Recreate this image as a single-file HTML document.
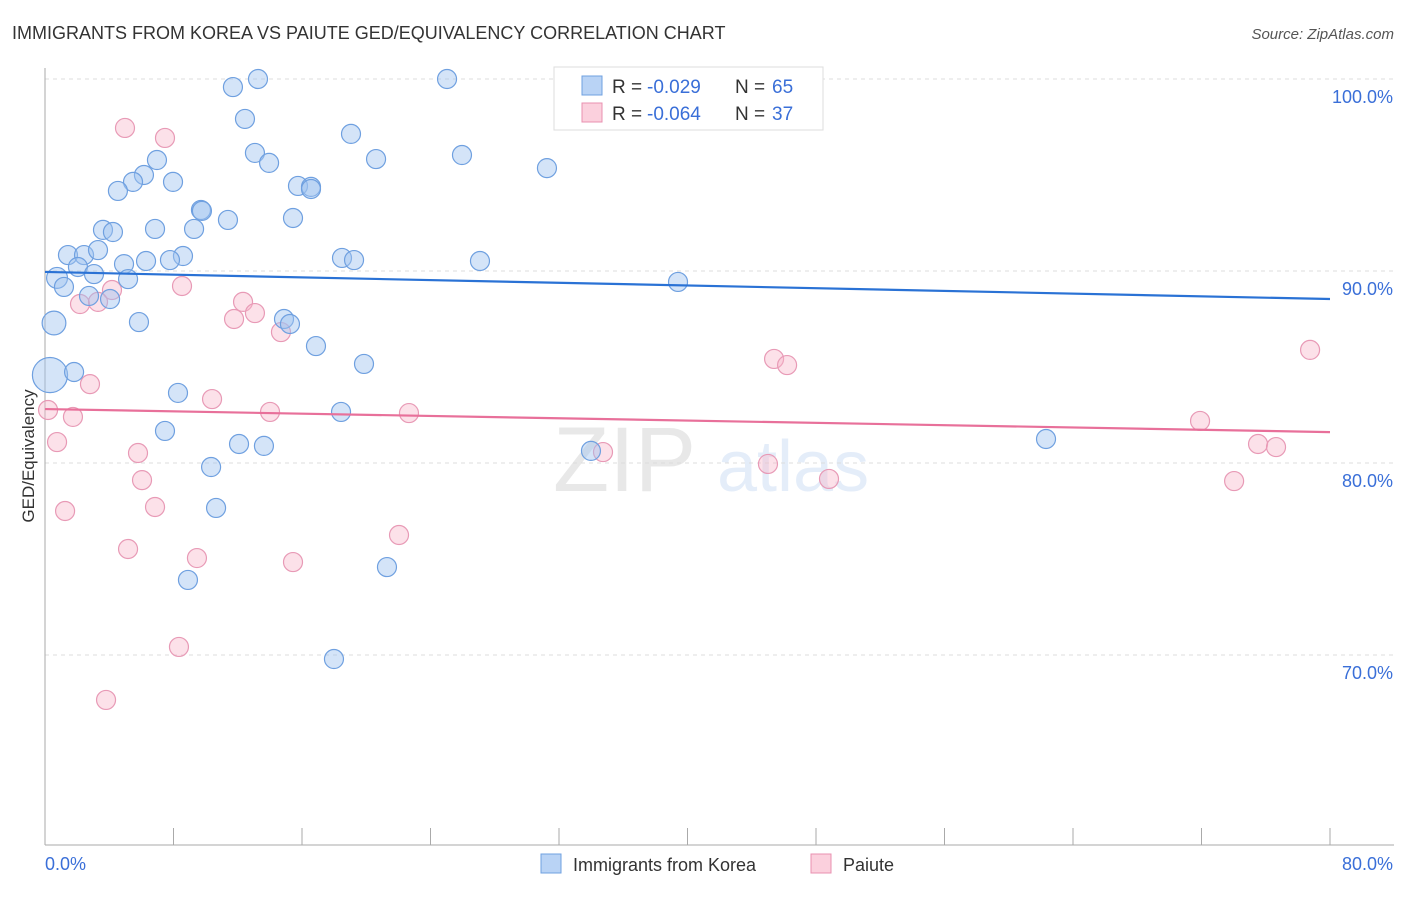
<!DOCTYPE html>
<html><head><meta charset="utf-8"><style>
body{margin:0;background:#fff;font-family:"Liberation Sans",sans-serif;}
svg text{font-family:"Liberation Sans",sans-serif;}
</style></head><body>
<svg id="chart" width="1406" height="892" xmlns="http://www.w3.org/2000/svg">
<text x="12" y="39" font-size="18" fill="#333">IMMIGRANTS FROM KOREA VS PAIUTE GED/EQUIVALENCY CORRELATION CHART</text>
<text x="1394" y="39" font-size="15" fill="#555" text-anchor="end" font-style="italic">Source: ZipAtlas.com</text>
<g opacity="0.13">
<text x="553" y="491" font-size="92" fill="#555" font-family="Liberation Serif">ZIP</text>
<text x="717" y="491" font-size="72" fill="#3a7ad8">atlas</text>
</g>
<g id="grid"></g>
<g id="axes"></g>
<g id="marks"></g>
<text transform="translate(34,456) rotate(-90)" font-size="17" fill="#333" text-anchor="middle">GED/Equivalency</text>
<g>
<rect x="554" y="67" width="269" height="63" fill="#fff" stroke="#ddd"/>
<rect x="582" y="76" width="20" height="19" fill="#b9d3f5" stroke="#6fa0e0"/>
<rect x="582" y="103" width="20" height="19" fill="#fbd0dd" stroke="#e890b0"/>
<text xml:space="preserve" x="612" y="93" font-size="19" fill="#333">R = <tspan x="647" fill="#3a6fd8">-0.029</tspan><tspan x="735">N = </tspan><tspan x="772" fill="#3a6fd8">65</tspan></text>
<text xml:space="preserve" x="612" y="120" font-size="19" fill="#333">R = <tspan x="647" fill="#3a6fd8">-0.064</tspan><tspan x="735">N = </tspan><tspan x="772" fill="#3a6fd8">37</tspan></text>
</g>
<g>
<rect x="541" y="854" width="20" height="19" fill="#b9d3f5" stroke="#6fa0e0"/>
<text x="573" y="871" font-size="18" fill="#333">Immigrants from Korea</text>
<rect x="811" y="854" width="20" height="19" fill="#fbd0dd" stroke="#e890b0"/>
<text x="843" y="871" font-size="18" fill="#333">Paiute</text>
</g>
</svg>
<script>
const yTicks=[100,90,80,70];
const yTickLabels=["100.0%","90.0%","80.0%","70.0%"];
const xTickCount=10;
const koreaX=[11.70,13.26,25.03,12.45,19.05,13.07,6.97,13.95,20.61,25.96,31.25,6.16,7.97,5.48,4.54,15.75,16.56,16.56,9.71,9.77,11.39,15.44,3.61,4.23,6.85,9.28,1.43,2.43,3.30,8.59,7.78,6.29,4.92,18.49,19.24,27.08,2.05,3.05,0.75,5.17,1.18,2.74,4.05,39.41,0.56,5.85,14.88,15.25,16.87,0.31,1.81,19.86,8.28,18.43,7.47,12.08,13.63,33.99,62.32,10.34,10.65,8.90,21.29,17.99];
const koreaY=[99.58,100,100,97.92,97.14,96.15,95.78,95.63,95.83,96.04,95.36,95.0,94.64,94.64,94.17,94.43,94.38,94.27,93.18,93.13,92.66,92.76,92.14,92.03,92.19,92.19,90.83,90.83,91.09,90.78,90.57,90.52,90.36,90.68,90.57,90.52,90.21,89.84,89.64,89.58,89.17,88.70,88.54,89.43,87.29,87.34,87.5,87.24,86.09,84.58,84.74,85.16,83.65,82.66,81.67,80.99,80.89,80.63,81.25,79.79,77.66,73.91,74.58,69.79];
const koreaSize=[1,1,1,1,1,1,1,1,1,1,1,1,1,1,1,1,1,1,1,1,1,1,1,1,1,1,1,1,1,1,1,1,1,1,1,1,1,1,1.1,1,1,1,1,1,1.25,1,1,1,1,1.85,1,1,1,1,1,1,1,1,1,1,1,1,1,1];
const paiuteX=[4.98,7.47,8.53,4.17,2.18,3.30,12.33,13.07,11.77,14.69,2.80,10.40,0.19,1.74,14.01,22.66,0.75,5.79,6.04,6.85,1.25,5.17,9.46,15.44,22.04,8.34,3.80,45.39,46.20,34.74,45.01,48.81,78.76,71.91,75.52,76.64,74.03];
const paiuteY=[97.45,96.93,89.22,89.01,88.28,88.39,88.39,87.81,87.5,86.82,84.11,83.33,82.76,82.40,82.66,82.60,81.09,80.52,79.11,77.71,77.5,75.52,75.05,74.84,76.25,70.42,67.66,85.42,85.1,80.57,79.95,79.17,85.89,82.19,80.99,80.83,79.06];
const koreaTrend=[89.95,88.54];
const paiuteTrend=[82.81,81.61];
const xDomain=[0,80];

const NS="http://www.w3.org/2000/svg";
const X0=45,X1=1330,YTOP=79,PX10=19.2;
function sx(v){return X0+(v-xDomain[0])/(xDomain[1]-xDomain[0])*(X1-X0);}
function sy(v){return YTOP+(100-v)*PX10;}
function mk(tag,attrs,parent){const e=document.createElementNS(NS,tag);for(const k in attrs)e.setAttribute(k,attrs[k]);parent.appendChild(e);return e;}
const grid=document.getElementById('grid'),axes=document.getElementById('axes'),marks=document.getElementById('marks');
yTicks.forEach((t,i)=>{
  const l=mk('line',{x1:X0,x2:1394,y1:sy(t),y2:sy(t),stroke:'#ddd','stroke-dasharray':'4,4'},grid);
  
  
  const tx=mk('text',{x:1393,y:sy(t)+24,'font-size':18,fill:'#3a6fd8','text-anchor':'end'},axes);
  tx.textContent=yTickLabels[i];
  
  
});
const ax=mk('line',{x1:X0,x2:X0,y1:68,y2:845,stroke:'#aaa'},axes);


const bx=mk('line',{x1:X0,x2:1394,y1:845,y2:845,stroke:'#aaa'},axes);


for(let i=0;i<=xTickCount;i++){
  const v=xDomain[0]+i*(xDomain[1]-xDomain[0])/xTickCount;
  const t=mk('line',{x1:sx(v),x2:sx(v),y1:828,y2:845,stroke:'#aaa'},axes);
  
  
}
const xl0=mk('text',{x:45,y:870,'font-size':18,fill:'#3a6fd8'},axes);xl0.textContent=xDomain[0].toFixed(1)+'%';


const xl1=mk('text',{x:1393,y:870,'font-size':18,fill:'#3a6fd8','text-anchor':'end'},axes);xl1.textContent=xDomain[1].toFixed(1)+'%';


function points(xs,ys,fill,stroke,name,sizes){
  xs.forEach((x,i)=>{
    const r=9.5*(sizes?sizes[i]:1);
    const c=mk('circle',{cx:sx(x),cy:sy(ys[i]),r:r,fill:fill,stroke:stroke,'stroke-width':1.2},marks);
    
    
  });
}
points(paiuteX,paiuteY,'rgba(248,180,200,0.4)','#e89ab6','paiute-point',null);
points(koreaX,koreaY,'rgba(160,196,240,0.45)','#6fa0e0','korea-point',koreaSize);
const l1=mk('line',{x1:sx(xDomain[0]),x2:sx(xDomain[1]),y1:sy(koreaTrend[0]),y2:sy(koreaTrend[1]),stroke:'#2a72d5','stroke-width':2.2},marks);


const l2=mk('line',{x1:sx(xDomain[0]),x2:sx(xDomain[1]),y1:sy(paiuteTrend[0]),y2:sy(paiuteTrend[1]),stroke:'#e8709a','stroke-width':2.2},marks);


</script>
</body></html>
